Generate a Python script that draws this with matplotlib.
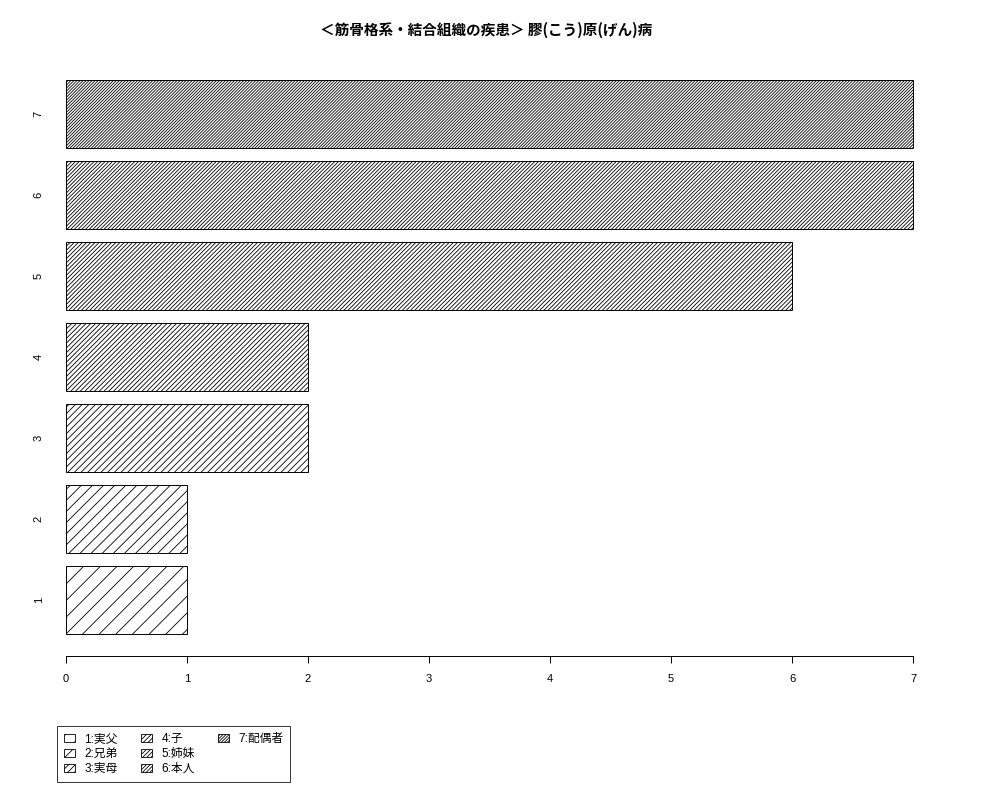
import matplotlib.pyplot as plt
from matplotlib.patches import Patch

plt.rcParams['font.family'] = ['Liberation Sans', 'Noto Sans CJK JP']
plt.rcParams['hatch.linewidth'] = 0.6

# データ
categories = ["1", "2", "3", "4", "5", "6", "7"]
values = [1, 1, 2, 2, 6, 7, 7]
legend_labels = ["1:実父", "2:兄弟", "3:実母", "4:子", "5:姉妹", "6:本人", "7:配偶者"]
hatches = ["/" * 2, "/" * 3, "/" * 5, "/" * 7, "/" * 8, "/" * 9, "/" * 11]
title = "＜筋骨格系・結合組織の疾患＞ 膠(こう)原(げん)病"

fig = plt.figure(figsize=(10, 8), dpi=100)
ax = fig.add_axes([0.066, 0.18, 0.881, 0.7475])

ypos = [0.7 + 1.2 * i for i in range(len(values))]
ax.barh(ypos, values, height=1.0, color="white", edgecolor="black",
        linewidth=0.7, hatch=hatches)

ax.set_xlim(0, 7.28)
ax.set_ylim(-0.128, 8.728)
ax.set_xticks(range(0, 8))
ax.set_yticks(ypos)
ax.set_yticklabels(categories, rotation=90, va="center")
ax.tick_params(axis="y", length=0, pad=16, labelsize=8)
ax.tick_params(axis="x", length=5, width=0.7, pad=8, labelsize=8)
for s in ["left", "top", "right"]:
    ax.spines[s].set_visible(False)
ax.spines["bottom"].set_bounds(0, 7)
ax.spines["bottom"].set_linewidth(0.7)

fig.text(0.486, 1 - 30 / 800, title, ha="center", va="center",
         fontsize=10.5, fontweight="bold",
         family=['Noto Sans CJK JP', 'DejaVu Sans'])

# 凡例 (3列: 1-3, 4-6, 7)
handles = [Patch(facecolor="white", edgecolor="black", hatch=h, linewidth=0.6)
           for h in hatches]
labels = list(legend_labels)
for _ in range(2):
    handles.append(Patch(visible=False))
    labels.append("")
leg = fig.legend(handles, labels, ncol=3, loc="lower left",
                 bbox_to_anchor=(0.057, 1 - 782 / 800), fontsize=8.5,
                 frameon=True, fancybox=False, edgecolor="black",
                 handlelength=0.9, handleheight=0.7, handletextpad=0.8,
                 columnspacing=2.0, labelspacing=0.25, borderpad=0.6,
                 borderaxespad=0)
leg.get_frame().set_linewidth(0.7)

fig.savefig("out.png", dpi=100)
